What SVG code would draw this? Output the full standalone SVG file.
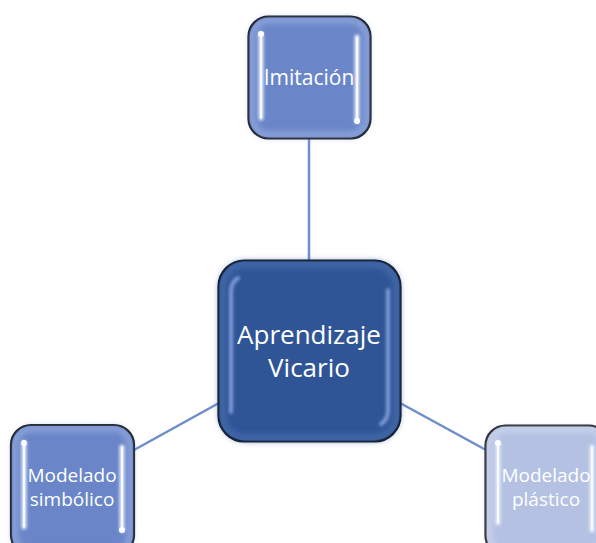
<svg xmlns="http://www.w3.org/2000/svg" width="596" height="543" viewBox="0 0 596 543">
<defs>
<filter id="blur" x="-50%" y="-20%" width="200%" height="140%"><feGaussianBlur stdDeviation="1.8"/></filter>
<filter id="glow" x="-10%" y="-10%" width="120%" height="120%"><feGaussianBlur stdDeviation="3"/></filter>
<style>
.box{stroke:#000;stroke-width:2.2}
.t{font-family:"Open Sans","Noto Sans","Liberation Sans",sans-serif;fill:#fff;text-anchor:middle}
.hl{stroke:#e6eeff;stroke-width:5;stroke-linecap:round;fill:none;filter:url(#blur)}
.hlc{stroke:#fff;stroke-width:1.6;stroke-linecap:round;fill:none}
.conn{stroke:#6f8ccc;stroke-width:2.5;fill:none}
</style>
</defs>
<rect width="596" height="543" fill="#fff"/>
<g id="connectors">
<line class="conn" x1="309" y1="139" x2="309" y2="261"/>
<line class="conn" x1="219" y1="403" x2="134" y2="450"/>
<line class="conn" x1="400" y1="403" x2="486" y2="450"/>
</g>
<g id="imitacion">
<rect class="box" x="248.5" y="16.5" width="122" height="122" rx="20" fill="#6a86c8"/>
<rect x="252" y="20" width="115" height="115" rx="17" fill="none" stroke="#9fb4e6" stroke-width="4" filter="url(#glow)"/>
<path class="hl" d="M261 34 V118 M357 37 V121"/>
<path class="hlc" d="M261 34 V118 M357 37 V121"/>
<circle cx="261" cy="34" r="3" fill="#fff"/>
<circle cx="357" cy="121" r="3" fill="#fff"/>
<text class="t" x="309" y="85" font-size="21">Imitación</text>
</g>
<g id="aprendizaje">
<rect class="box" x="218.5" y="260.5" width="182" height="181" rx="26" fill="#2f5597"/>
<rect x="222" y="264" width="175" height="174" rx="23" fill="none" stroke="#4a6fb0" stroke-width="5" filter="url(#glow)"/>
<path d="M231 412 V292 Q231 282 238 278" stroke="#7f9bd8" stroke-width="4" fill="none" stroke-linecap="round" filter="url(#blur)"/>
<path d="M388 290 V410 Q388 420 381 424" stroke="#7f9bd8" stroke-width="4" fill="none" stroke-linecap="round" filter="url(#blur)"/>
<text class="t" x="309" y="344" font-size="26">Aprendizaje</text>
<text class="t" x="309" y="377" font-size="26">Vicario</text>
</g>
<g id="simbolico">
<rect class="box" x="11" y="425" width="123" height="130" rx="20" fill="#6a86c8"/>
<rect x="14.5" y="428.5" width="116" height="124" rx="17" fill="none" stroke="#9fb4e6" stroke-width="4" filter="url(#glow)"/>
<path class="hl" d="M24 443 V527 M122 447 V530"/>
<path class="hlc" d="M24 443 V527 M122 447 V530"/>
<circle cx="24" cy="443" r="3" fill="#fff"/>
<circle cx="122" cy="530" r="3" fill="#fff"/>
<text class="t" x="72" y="482" font-size="19">Modelado</text>
<text class="t" x="72" y="506" font-size="19">simbólico</text>
</g>
<g id="plastico">
<rect class="box" x="485.5" y="425.5" width="123" height="130" rx="20" fill="#b4c1e2"/>
<rect x="489" y="429" width="116" height="124" rx="17" fill="none" stroke="#d3dcf1" stroke-width="4" filter="url(#glow)"/>
<path class="hl" d="M498 443 V523 M592 447 V530"/>
<path class="hlc" d="M498 443 V523 M592 447 V530"/>
<circle cx="498" cy="443" r="3" fill="#fff"/>
<text class="t" x="546" y="482" font-size="19">Modelado</text>
<text class="t" x="546" y="506" font-size="19">plástico</text>
</g>
</svg>
